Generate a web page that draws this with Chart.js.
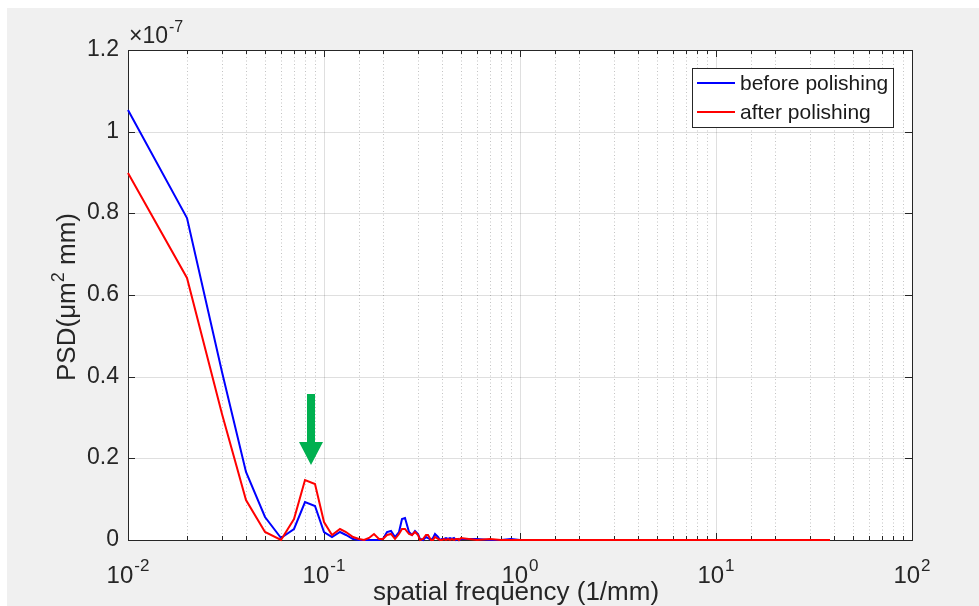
<!DOCTYPE html>
<html>
<head>
<meta charset="utf-8">
<script src="https://cdn.jsdelivr.net/npm/chart.js@4.4.0/dist/chart.umd.min.js"></script>
<style>
    html, body { margin: 0; padding: 0; background: #fff; }
</style>
</head>
<body>
<canvas id="psd_chart" width="979" height="606"></canvas>
<script>
const FONT = '"Liberation Sans", Arial, Helvetica, sans-serif';
const TEXT = '#262626';

// spatial frequency (1/mm)
const freq = [
    0.01, 0.02, 0.03, 0.04, 0.05, 0.06, 0.07, 0.08, 0.09, 0.10,
    0.11, 0.12, 0.13, 0.14, 0.15, 0.16, 0.17, 0.18, 0.19, 0.20,
    0.21, 0.22, 0.23, 0.24, 0.25, 0.26, 0.27, 0.28, 0.29, 0.30,
    0.31, 0.32, 0.33, 0.34, 0.35, 0.36, 0.37, 0.38, 0.39, 0.40,
    0.41, 0.42, 0.43, 0.44, 0.45, 0.46, 0.47, 0.48, 0.49, 0.50,
    0.6, 0.7, 0.8, 0.9, 1.0, 1.5, 2, 3, 5, 10, 20, 38
];
// PSD values in units of 1e-7 um^2 mm
const psdBefore = [
    1.053, 0.788, 0.412, 0.167, 0.057, 0.006, 0.027, 0.093, 0.084, 0.020,
    0.007, 0.020, 0.012, 0.002, 0.000, 0.000, 0.001, 0.001, 0.000, 0.002,
    0.020, 0.023, 0.008, 0.020, 0.051, 0.053, 0.020, 0.012, 0.023, 0.015,
    0.002, 0.001, 0.008, 0.004, 0.000, 0.004, 0.015, 0.008, 0.001, 0.002,
    0.003, 0.005, 0.002, 0.005, 0.002, 0.004, 0.001, 0.002, 0.001, 0.002,
    0.002, 0.001, 0.001, 0.002, 0.001, 0.000, 0.000, 0.000, 0.000, 0.000, 0.000, 0.000
];
const psdAfter = [
    0.899, 0.641, 0.309, 0.098, 0.020, 0.000, 0.051, 0.147, 0.137, 0.045,
    0.012, 0.026, 0.020, 0.008, 0.002, 0.001, 0.004, 0.015, 0.003, 0.002,
    0.012, 0.015, 0.002, 0.015, 0.026, 0.027, 0.015, 0.012, 0.020, 0.012,
    0.001, 0.002, 0.012, 0.012, 0.001, 0.001, 0.008, 0.002, 0.001, 0.001,
    0.002, 0.001, 0.003, 0.001, 0.002, 0.001, 0.002, 0.003, 0.001, 0.004,
    0.001, 0.002, 0.001, 0.001, 0.001, 0.001, 0.000, 0.000, 0.000, 0.000, 0.000, 0.000
];
const seriesNames = ['before polishing', 'after polishing'];
const seriesColors = ['#0000ff', '#ff0000'];
const yTicks = [0, 0.2, 0.4, 0.6, 0.8, 1, 1.2];
const xDecades = [-2, -1, 0, 1, 2];
const yExponent = -7;
// green arrow points at the peak near 0.085 1/mm
const arrowTip = { x: 0.086, y: 0.184 };

const toPoints = (vals) => freq.map((f, i) => ({ x: f, y: vals[i] }));
const isDecade = (v) => Math.abs(Math.log10(v) - Math.round(Math.log10(v))) < 1e-6;

const matlabLook = {
    id: 'matlabLook',
    beforeDraw(chart) {
        const ctx = chart.ctx;
        const a = chart.chartArea;
        ctx.save();
        ctx.fillStyle = '#ffffff';
        ctx.fillRect(0, 0, chart.width, chart.height);
        ctx.fillStyle = '#f0f0f0';
        ctx.fillRect(7, 8, chart.width - 7, chart.height - 8);
        ctx.fillStyle = '#ffffff';
        ctx.fillRect(a.left, a.top, a.right - a.left, a.bottom - a.top);
        ctx.restore();
    },
    beforeDatasetsDraw(chart) {
        // box and inward ticks like matlab
        const ctx = chart.ctx;
        const { left, right, top, bottom } = chart.chartArea;
        const xs = chart.scales.x, ys = chart.scales.y;
        ctx.save();
        ctx.strokeStyle = TEXT;
        ctx.lineWidth = 1;
        ctx.beginPath();
        xs.ticks.forEach(t => {
            const px = Math.round(xs.getPixelForValue(t.value)) + 0.5;
            const len = isDecade(t.value) ? 7 : 4;
            ctx.moveTo(px, bottom); ctx.lineTo(px, bottom - len);
            ctx.moveTo(px, top); ctx.lineTo(px, top + len);
        });
        yTicks.forEach(v => {
            const py = Math.round(ys.getPixelForValue(v)) + 0.5;
            ctx.moveTo(left, py); ctx.lineTo(left + 7, py);
            ctx.moveTo(right, py); ctx.lineTo(right - 7, py);
        });
        ctx.stroke();
        ctx.strokeRect(left + 0.5, top + 0.5, right - left, bottom - top);
        ctx.restore();
    },
    afterDraw(chart) {
        const ctx = chart.ctx;
        const { left, right, top, bottom } = chart.chartArea;
        const xs = chart.scales.x, ys = chart.scales.y;
        ctx.save();
        ctx.fillStyle = TEXT;
        ctx.textAlign = 'left';
        ctx.textBaseline = 'alphabetic';

        // x tick labels 10^n
        xDecades.forEach(e => {
            const px = xs.getPixelForValue(Math.pow(10, e));
            ctx.font = '24px ' + FONT;
            const wb = ctx.measureText('10').width;
            ctx.font = '17px ' + FONT;
            const ws = ctx.measureText(String(e)).width;
            const x0 = px - (wb + ws + 1) / 2;
            ctx.font = '24px ' + FONT;
            ctx.fillText('10', x0, bottom + 43);
            ctx.font = '17px ' + FONT;
            ctx.fillText(String(e), x0 + wb + 1, bottom + 31);
        });

        // exponent label above y axis
        ctx.font = '23px ' + FONT;
        ctx.fillText('\u00d710', left + 1, top - 7);
        const wx = ctx.measureText('\u00d710').width;
        ctx.font = '16px ' + FONT;
        ctx.fillText(String(yExponent), left + 1 + wx + 1, top - 18);

        // x axis title
        ctx.font = '26px ' + FONT;
        ctx.textAlign = 'center';
        ctx.fillText('spatial frequency (1/mm)', (left + right) / 2 - 4, bottom + 60);

        // y axis title with superscript
        ctx.save();
        ctx.translate(75, (top + bottom) / 2 + 2);
        ctx.rotate(-Math.PI / 2);
        ctx.textAlign = 'left';
        const parts = [['PSD(\u03bcm', 26, 0], ['2', 18, -11], [' mm)', 26, 0]];
        let total = 0;
        parts.forEach(p => { ctx.font = p[1] + 'px ' + FONT; total += ctx.measureText(p[0]).width; });
        let cx = -total / 2;
        parts.forEach(p => {
            ctx.font = p[1] + 'px ' + FONT;
            ctx.fillText(p[0], cx, p[2]);
            cx += ctx.measureText(p[0]).width;
        });
        ctx.restore();

        // legend box
        const bx = right - 220, by = top + 18, bw = 201, bh = 59;
        ctx.fillStyle = '#ffffff';
        ctx.fillRect(bx, by, bw, bh);
        ctx.strokeStyle = TEXT;
        ctx.lineWidth = 1;
        ctx.strokeRect(bx + 0.5, by + 0.5, bw, bh);
        ctx.font = '21px ' + FONT;
        ctx.textAlign = 'left';
        ctx.textBaseline = 'middle';
        seriesNames.forEach((name, i) => {
            const ly = by + 15 + i * 29;
            ctx.strokeStyle = seriesColors[i];
            ctx.lineWidth = 2;
            ctx.beginPath();
            ctx.moveTo(bx + 5, ly); ctx.lineTo(bx + 43, ly);
            ctx.stroke();
            ctx.fillStyle = '#1a1a1a';
            ctx.fillText(name, bx + 48, ly + 1);
        });

        // green arrow
        const tx = xs.getPixelForValue(arrowTip.x);
        const ty = ys.getPixelForValue(arrowTip.y);
        ctx.fillStyle = '#00b050';
        ctx.beginPath();
        ctx.moveTo(tx, ty);
        ctx.lineTo(tx - 12, ty - 23);
        ctx.lineTo(tx - 4, ty - 23);
        ctx.lineTo(tx - 4, ty - 71);
        ctx.lineTo(tx + 4, ty - 71);
        ctx.lineTo(tx + 4, ty - 23);
        ctx.lineTo(tx + 12, ty - 23);
        ctx.closePath();
        ctx.fill();
        ctx.restore();
    }
};

new Chart('psd_chart', {
    type: 'line',
    data: {
        datasets: [
            {
                label: seriesNames[0],
                data: toPoints(psdBefore),
                borderColor: seriesColors[0],
                borderWidth: 2,
                pointRadius: 0,
                tension: 0,
                clip: false,
                order: 1
            },
            {
                label: seriesNames[1],
                data: toPoints(psdAfter),
                borderColor: seriesColors[1],
                borderWidth: 2,
                pointRadius: 0,
                tension: 0,
                clip: false,
                order: 0
            }
        ]
    },
    options: {
        responsive: false,
        animation: false,
        devicePixelRatio: 1,
        layout: { padding: { top: 50, right: 67, left: 0, bottom: 0 } },
        plugins: {
            legend: { display: false },
            tooltip: { enabled: false }
        },
        scales: {
            x: {
                type: 'logarithmic',
                min: 0.01,
                max: 100,
                alignToPixels: true,
                afterFit: (s) => { s.height = 66; },
                ticks: { display: false, autoSkip: false },
                grid: {
                    drawTicks: false,
                    color: (c) => isDecade(c.tick.value) ? 'rgba(38,38,38,0.15)' : 'rgba(38,38,38,0.28)'
                },
                border: {
                    display: false,
                    dash: (c) => isDecade(c.tick.value) ? [] : [1, 2.5]
                }
            },
            y: {
                type: 'linear',
                min: 0,
                max: 1.2,
                alignToPixels: true,
                afterFit: (s) => { s.width = 128; },
                afterBuildTicks: (s) => { s.ticks = yTicks.map(v => ({ value: v })); },
                ticks: {
                    padding: 9,
                    color: TEXT,
                    font: { family: FONT, size: 23 },
                    callback: (v) => String(Math.round(v * 10) / 10)
                },
                grid: {
                    drawTicks: false,
                    color: 'rgba(38,38,38,0.15)'
                },
                border: { display: false }
            }
        }
    },
    plugins: [matlabLook]
});
</script>
</body>
</html>
